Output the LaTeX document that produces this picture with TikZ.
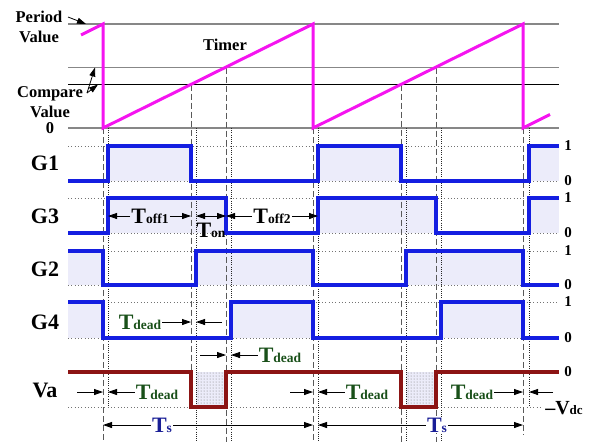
\documentclass[tikz,border=0pt]{standalone}
\usepackage{fontspec}
\setmainfont{Liberation Serif}
\usetikzlibrary{arrows.meta, patterns}
\definecolor{timercol}{RGB}{245,20,240}
\definecolor{sigblue}{RGB}{20,30,225}
\definecolor{vared}{RGB}{140,20,20}
\definecolor{pulsefill}{RGB}{236,236,250}
\definecolor{deadgreen}{RGB}{25,80,25}
\definecolor{tsblue}{RGB}{25,30,150}
\definecolor{gridgrey}{RGB}{135,135,135}
\newcommand{\Tsub}[1]{{\fontsize{22}{22}\selectfont T}{\fontsize{13.5}{13.5}\selectfont #1}}

\begin{document}
\begin{tikzpicture}[x=1pt, y=-1pt, >={Triangle[length=9pt,width=6pt]},
  lvl/.style={gridgrey, line width=1.1pt},
  dotlvl/.style={black!55, line width=0.7pt, dash pattern=on 0.9pt off 2.4pt},
  vdash/.style={black!65, line width=0.8pt, dash pattern=on 6pt off 3pt},
  vdot/.style={black!85, line width=0.6pt, dash pattern=on 0.8pt off 1.4pt},
  sig/.style={sigblue, line width=3.2pt, line join=miter},
  txt/.style={font=\bfseries\fontsize{16.5}{20}\selectfont, inner sep=1pt},
  rowlab/.style={font=\bfseries\fontsize{22}{22}\selectfont},
  lvllab/.style={font=\bfseries\fontsize{15}{15}\selectfont},
  tlab/.style={font=\bfseries, inner sep=1pt},
  ann/.style={->, black, line width=0.8pt}]
  \useasboundingbox (0,0) rectangle (593,442);

  % edge positions
  \coordinate (a1) at (103,0); \coordinate (a2) at (108,0);
  \coordinate (b1) at (191,0); \coordinate (b2) at (196,0);
  \coordinate (c1) at (226,0); \coordinate (c2) at (231,0);
  \coordinate (d1) at (313,0); \coordinate (d2) at (318,0);
  \coordinate (g1) at (523,0); \coordinate (g2) at (529,0);

  % pulse fills
  \foreach \xa/\xb/\ya/\yb in {108/191/146/181, 318/401/146/181, 529/559/146/181,
      108/226/198/233, 318/436/198/233, 529/559/198/233,
      68/103/251/285, 196/313/251/285, 406/523/251/285,
      68/103/302/338, 231/313/302/338, 441/523/302/338}
    \fill[pulsefill] (\xa,\ya) rectangle (\xb,\yb);
  \foreach \xa in {196, 406}
    \fill[pulsefill] (\xa,372) rectangle (\xa+30,407);
  \foreach \xa in {196, 406}
    \fill[pattern=dots, pattern color=black!55] (\xa,372) rectangle (\xa+30,407);

  % timer levels
  \draw[lvl] (68,24) -- (559,24);
  \draw[lvl] (68,67.5) -- (559,67.5);
  \draw[black, line width=0.8pt] (68,84.5) -- (559,84.5);
  \draw[lvl] (68,128) -- (559,128);

  % signal levels
  \foreach \y in {146,181,198,233,251,285,302,338}
    \draw[dotlvl] (68,\y) -- (559,\y);
  \draw[dotlvl] (68,407) -- (540,407);

  % vertical markers
  \foreach \x/\ya/\yb in {103/128/442, 191/84.5/407, 226/67.5/442, 313/128/442,
      401/84.5/442, 436/67.5/442, 523/128/435}
    \draw[vdash] (\x,\ya) -- (\x,\yb);
  \foreach \x/\yb in {108/407, 196/442, 231/442, 318/442, 406/442, 441/442, 529/407}
    \draw[vdot] (\x,128) -- (\x,\yb);

  % timer
  \draw[timercol, line width=3pt, line join=miter]
    (81,35) -- (103,24) -- (103,128) -- (313,24) -- (313,128) -- (523,24)
    -- (523,128) -- (550,114.5);

  % gate signals
  \draw[sig] (68,181) -- (108,181) -- (108,146) -- (191,146) -- (191,181) -- (318,181)
    -- (318,146) -- (401,146) -- (401,181) -- (529,181) -- (529,146) -- (559,146);
  \draw[sig] (68,233) -- (108,233) -- (108,198) -- (226,198) -- (226,233) -- (318,233)
    -- (318,198) -- (436,198) -- (436,233) -- (529,233) -- (529,198) -- (559,198);
  \draw[sig] (68,251) -- (103,251) -- (103,285) -- (196,285) -- (196,251) -- (313,251)
    -- (313,285) -- (406,285) -- (406,251) -- (523,251) -- (523,285) -- (559,285);
  \draw[sig] (68,302) -- (103,302) -- (103,338) -- (231,338) -- (231,302) -- (313,302)
    -- (313,338) -- (441,338) -- (441,302) -- (523,302) -- (523,338) -- (559,338);
  % output voltage
  \draw[vared, line width=3.2pt, line join=miter]
    (68,372) -- (191,372) -- (191,407) -- (226,407) -- (226,372) -- (401,372)
    -- (401,407) -- (436,407) -- (436,372) -- (559,372);

  % timer labels
  \node[txt, align=center] (period) at (39,27) {Period\\Value};
  \node[txt, align=center] (compare) at (50,102) {Compare\\Value};
  \node[txt] (zero) at (50,128) {0};
  \node[txt] (timer) at (225,45) {Timer};
  \coordinate (perpt) at (86,24);
  \coordinate (cmpup) at (95,67.5);
  \coordinate (cmplo) at (98,84.5);
  \coordinate (cmpfoot) at (87,93);
  \draw[ann] (68,17) -- (perpt);
  \draw[ann] (cmpfoot) -- (cmpup);
  \draw[ann] (cmpfoot) -- (cmplo);

  % row labels
  \node[rowlab] (lg1) at (45,163) {G1};
  \node[rowlab] (lg3) at (45,216) {G3};
  \node[rowlab] (lg2) at (45,269) {G2};
  \node[rowlab] (lg4) at (45,322) {G4};
  \node[rowlab] (lva) at (45,390) {Va};
  \foreach \y/\v in {146/1, 181/0, 198/1, 233/0, 251/1, 285/0, 302/1, 338/0, 372/0}
    \node[lvllab] at (568,\y) {\v};
  \node[tlab] (vdc) at (564,408) {{\fontsize{20}{20}\selectfont –V}{\fontsize{13}{13}\selectfont dc}};

  % switching times
  \node[tlab, fill=pulsefill] (toffa) at (150,216) {\Tsub{off1}};
  \draw[ann] (toffa.west) -- (toffa.west -| a2);
  \draw[ann] (toffa.east) -- (toffa.east -| b1);
  \coordinate (tonl) at (196,216);
  \coordinate (tonr) at (226,216);
  \draw[ann, <->] (tonl) -- (tonr);
  \node[tlab] (ton) at (211,230) {\Tsub{on}};
  \node[tlab, fill=white] (toffb) at (272,216) {\Tsub{off2}};
  \draw[ann] (toffb.west) -- (toffb.west -| c1);
  \draw[ann] (toffb.east) -- (toffb.east -| d2);

  % dead times
  \node[tlab, text=deadgreen, fill=white] (tda) at (140,322) {\Tsub{dead}};
  \coordinate (tdar) at (222,322);
  \draw[ann] (tda.east) -- (tda.east -| b1);
  \draw[ann] (tdar) -- (tdar -| b2);
  \node[tlab, text=deadgreen, fill=white] (tdb) at (280,355) {\Tsub{dead}};
  \coordinate (tdbl) at (200,355);
  \draw[ann] (tdbl) -- (tdbl -| c1);
  \draw[ann] (tdb.west) -- (tdb.west -| c2);
  \node[tlab, text=deadgreen, fill=white] (tdc) at (157,392) {\Tsub{dead}};
  \coordinate (tdcl) at (77,392);
  \draw[ann] (tdcl) -- (tdcl -| a1);
  \draw[ann] (tdc.west) -- (tdc.west -| a2);
  \node[tlab, text=deadgreen, fill=white] (tdd) at (367,392) {\Tsub{dead}};
  \coordinate (tddl) at (290,392);
  \draw[ann] (tddl) -- (tddl -| d1);
  \draw[ann] (tdd.west) -- (tdd.west -| d2);
  \node[tlab, text=deadgreen, fill=white] (tde) at (472,392) {\Tsub{dead}};
  \coordinate (tder) at (553,392);
  \draw[ann] (tde.east) -- (tde.east -| g1);
  \draw[ann] (tder) -- (tder -| g2);

  % switching periods
  \node[tlab, text=tsblue, fill=white] (tsa) at (162,425) {\Tsub{s}};
  \draw[ann] (tsa.west) -- (tsa.west -| a1);
  \draw[ann] (tsa.east) -- (tsa.east -| d1);
  \node[tlab, text=tsblue, fill=white] (tsb) at (437,425) {\Tsub{s}};
  \draw[ann] (tsb.west) -- (tsb.west -| d2);
  \draw[ann] (tsb.east) -- (tsb.east -| g1);
\end{tikzpicture}
\end{document}
